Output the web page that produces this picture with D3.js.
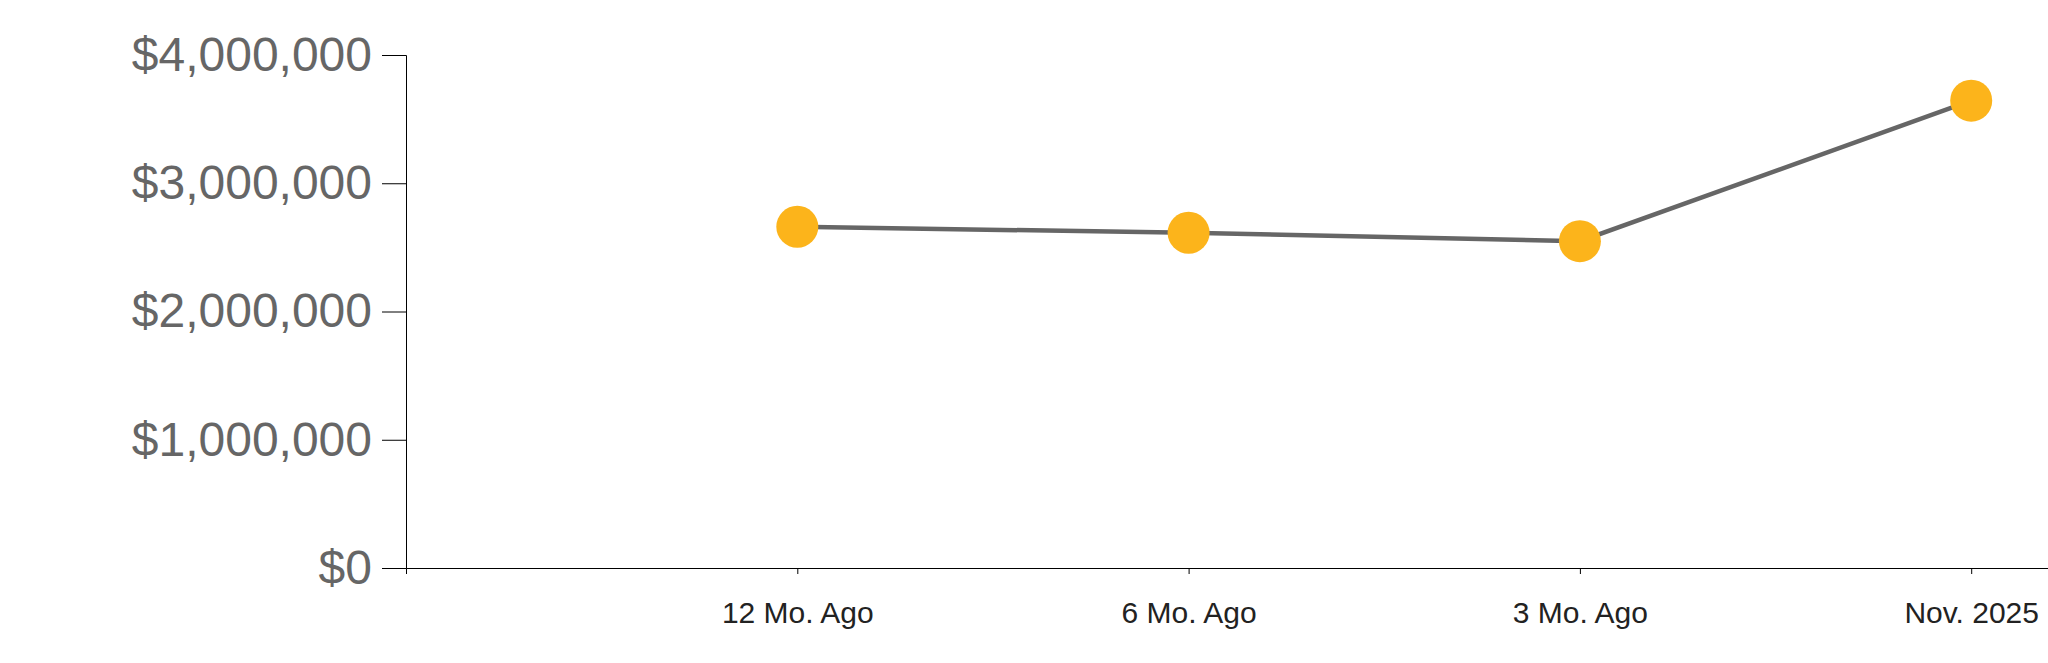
<!DOCTYPE html>
<meta charset="utf-8">
<style>
body { margin: 0; background: #fff; }
.line { fill: none; stroke: #666; stroke-width: 4.5px; }
.y-axis text { fill: #666; font: 48px "Liberation Sans", Arial, sans-serif; }
.x-axis text { fill: #222; font: 30px "Liberation Sans", Arial, sans-serif; }
.domain, .tick line { stroke: #000; stroke-width: 1px; }
</style>
<body>
<script src="https://d3js.org/d3.v7.min.js"></script>
<script>
// data
var periods = ["12 Mo. Ago", "6 Mo. Ago", "3 Mo. Ago", "Nov. 2025"];
var values = [2661000, 2614000, 2548000, 3644000];
var yTicks = [0, 1000000, 2000000, 3000000, 4000000];

var width = 2048, height = 663;
var margin = {top: 55, left: 406, bottom: 95};

var svg = d3.select("body").append("svg")
    .attr("width", width)
    .attr("height", height);

// x: index 0 is the axis origin, periods sit at 1..4
var x = d3.scaleLinear().domain([0, 4.3]).range([margin.left, margin.left + 391.3 * 4.3]);
var y = d3.scaleLinear().domain([0, 4000000]).range([height - margin.bottom, margin.top]);

var fmt = d3.format("$,");

svg.append("g")
    .attr("class", "y-axis")
    .attr("transform", "translate(" + margin.left + ",0)")
    .call(d3.axisLeft(y).tickValues(yTicks).tickFormat(fmt).tickSize(24).tickPadding(10));

svg.append("g")
    .attr("class", "x-axis")
    .attr("transform", "translate(0," + y(0) + ")")
    .call(d3.axisBottom(x)
        .tickValues([1, 2, 3, 4])
        .tickFormat(function(d) { return periods[d - 1]; })
        .tickSize(6).tickSizeOuter(6).tickPadding(28));

var pts = values.map(function(v, i) { return {i: i + 1, v: v}; });

var valueline = d3.line()
    .x(function(d) { return x(d.i); })
    .y(function(d) { return y(d.v); });

svg.append("path")
    .datum(pts)
    .attr("class", "line")
    .attr("d", valueline);

svg.selectAll("circle.dot")
    .data(pts)
  .enter().append("circle")
    .attr("class", "dot")
    .attr("cx", function(d) { return x(d.i); })
    .attr("cy", function(d) { return y(d.v); })
    .attr("r", 21)
    .style("fill", "#fcb41b");
</script>
</body>
